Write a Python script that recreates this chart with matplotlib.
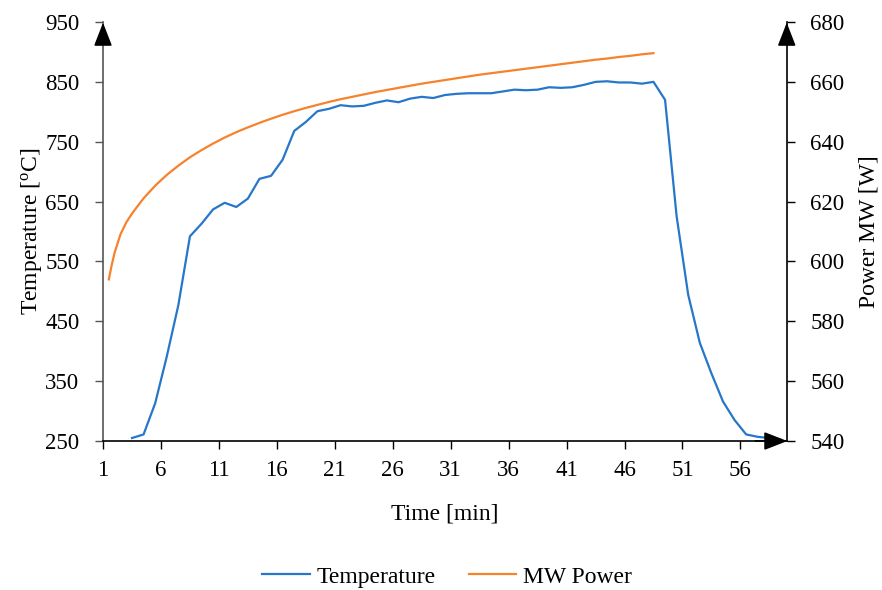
import matplotlib
matplotlib.use("Agg")
import matplotlib.pyplot as plt
import numpy as np

plt.rcParams['font.family'] = ['Liberation Serif', 'DejaVu Serif']
plt.rcParams['mathtext.fontset'] = 'custom'
plt.rcParams['mathtext.rm'] = 'Liberation Serif'

# temperature readings, one per minute (half-minute centred)
time_temp = [3.5, 4.5, 5.5, 6.5, 7.5, 8.5, 9.5, 10.5, 11.5, 12.5, 13.5, 14.5,
             15.5, 16.5, 17.5, 18.5, 19.5, 20.5, 21.5, 22.5, 23.5, 24.5, 25.5,
             26.5, 27.5, 28.5, 29.5, 30.5, 31.5, 32.5, 33.5, 34.5, 35.5, 36.5,
             37.5, 38.5, 39.5, 40.5, 41.5, 42.5, 43.5, 44.5, 45.5, 46.5, 47.5,
             48.5, 49.5, 50.5, 51.5, 52.5, 53.5, 54.5, 55.5, 56.5, 57.5, 58.5,
             59.5]
temperature = [255, 261, 313, 391, 477, 592, 613, 637, 648, 641, 655, 688,
               693, 720, 768, 783, 801, 805, 811, 809, 810, 815, 819,
               816, 822, 825, 823, 828, 830, 831, 831, 831, 834, 837,
               836, 837, 841, 840, 841, 845, 850, 851, 849, 849, 847,
               850, 820, 625, 494, 414, 363, 316, 285, 261, 257, 255,
               252]

# microwave power set point
time_power = [1.5, 1.75, 2.0, 2.5, 3.0, 3.5, 4.5, 5.5, 6.5, 7.5, 8.5, 9.5,
              10.5, 11.5, 12.5, 13.5, 14.5, 15.5, 16.5, 17.5, 18.5, 19.5,
              20.5, 21.5, 22.5, 23.5, 24.5, 25.5, 26.5, 27.5, 28.5, 29.5,
              30.5, 31.5, 32.5, 33.5, 34.5, 35.5, 36.5, 37.5, 38.5, 39.5,
              40.5, 41.5, 42.5, 43.5, 44.5, 45.5, 46.5, 47.5, 48.5]
power = [594.0, 598.8, 602.9, 609.0, 613.0, 616.0, 621.1, 625.3, 628.9, 632.0,
         634.8, 637.2, 639.4, 641.4, 643.2, 644.8, 646.3, 647.7, 649.0, 650.2,
         651.3, 652.3, 653.3, 654.2, 655.0, 655.8, 656.6, 657.3, 658.0, 658.7,
         659.4, 660.0, 660.6, 661.2, 661.8, 662.4, 662.9, 663.4, 663.9, 664.4,
         664.9, 665.4, 665.9, 666.4, 666.9, 667.4, 667.8, 668.3, 668.7, 669.2,
         669.6]

x_ticks = list(range(1, 57, 5))
temp_ticks = list(range(250, 951, 100))
power_ticks = list(range(540, 681, 20))

FS = 16.5
blue = '#2677C9'
orange = '#F7822C'

fig = plt.figure(figsize=(8.82, 5.90), dpi=100)
ax = fig.add_axes([0.1168, 0.2525, 0.7752, 0.7102])
ax2 = ax.twinx()

l1, = ax.plot(time_temp, temperature, color=blue, lw=1.6, label='Temperature')
l2, = ax2.plot(time_power, power, color=orange, lw=1.6, label='MW Power')

ax.set_xlim(1, 60)
ax.set_ylim(250, 950)
ax2.set_ylim(540, 680)
ax.set_xticks(x_ticks)
ax.set_yticks(temp_ticks)
ax2.set_yticks(power_ticks)

for a in (ax, ax2):
    a.spines['top'].set_visible(False)
    a.tick_params(labelsize=FS, direction='out', length=6, width=1.0, pad=11)
ax.tick_params(axis='x', pad=8)
ax.spines['right'].set_visible(False)
ax.spines['left'].set_color('#555555')
ax.spines['left'].set_linewidth(1.2)
ax.spines['bottom'].set_linewidth(1.2)
ax.tick_params(axis='y', colors='#555555', labelcolor='black')
ax2.spines['left'].set_visible(False)
ax2.spines['bottom'].set_visible(False)
ax2.spines['right'].set_linewidth(1.2)

ax.set_xlabel('Time [min]', fontsize=17, labelpad=16)
ax.set_ylabel('Temperature [$\\mathregular{^o}$C]', fontsize=17, labelpad=1)
ax2.set_ylabel('Power MW [W]', fontsize=17, labelpad=10)

# arrow heads at the end of each axis
head = dict(arrowstyle='-|>,head_length=0.9,head_width=0.35', color='black',
            lw=1.2, mutation_scale=16)
ax.annotate('', xy=(0, 1.005), xytext=(0, 0.95), xycoords='axes fraction',
            arrowprops=head, annotation_clip=False)
ax.annotate('', xy=(1.005, 0), xytext=(0.95, 0), xycoords='axes fraction',
            arrowprops=head, annotation_clip=False)
ax2.annotate('', xy=(1, 1.005), xytext=(1, 0.95), xycoords='axes fraction',
             arrowprops=head, annotation_clip=False)

fig.legend(handles=[l1, l2], loc='lower center', bbox_to_anchor=(0.507, -0.012),
           ncol=2, frameon=False, fontsize=17, handlelength=2.0,
           handletextpad=0.3, columnspacing=1.4, borderaxespad=0.0)

fig.savefig('out.png', dpi=100)
